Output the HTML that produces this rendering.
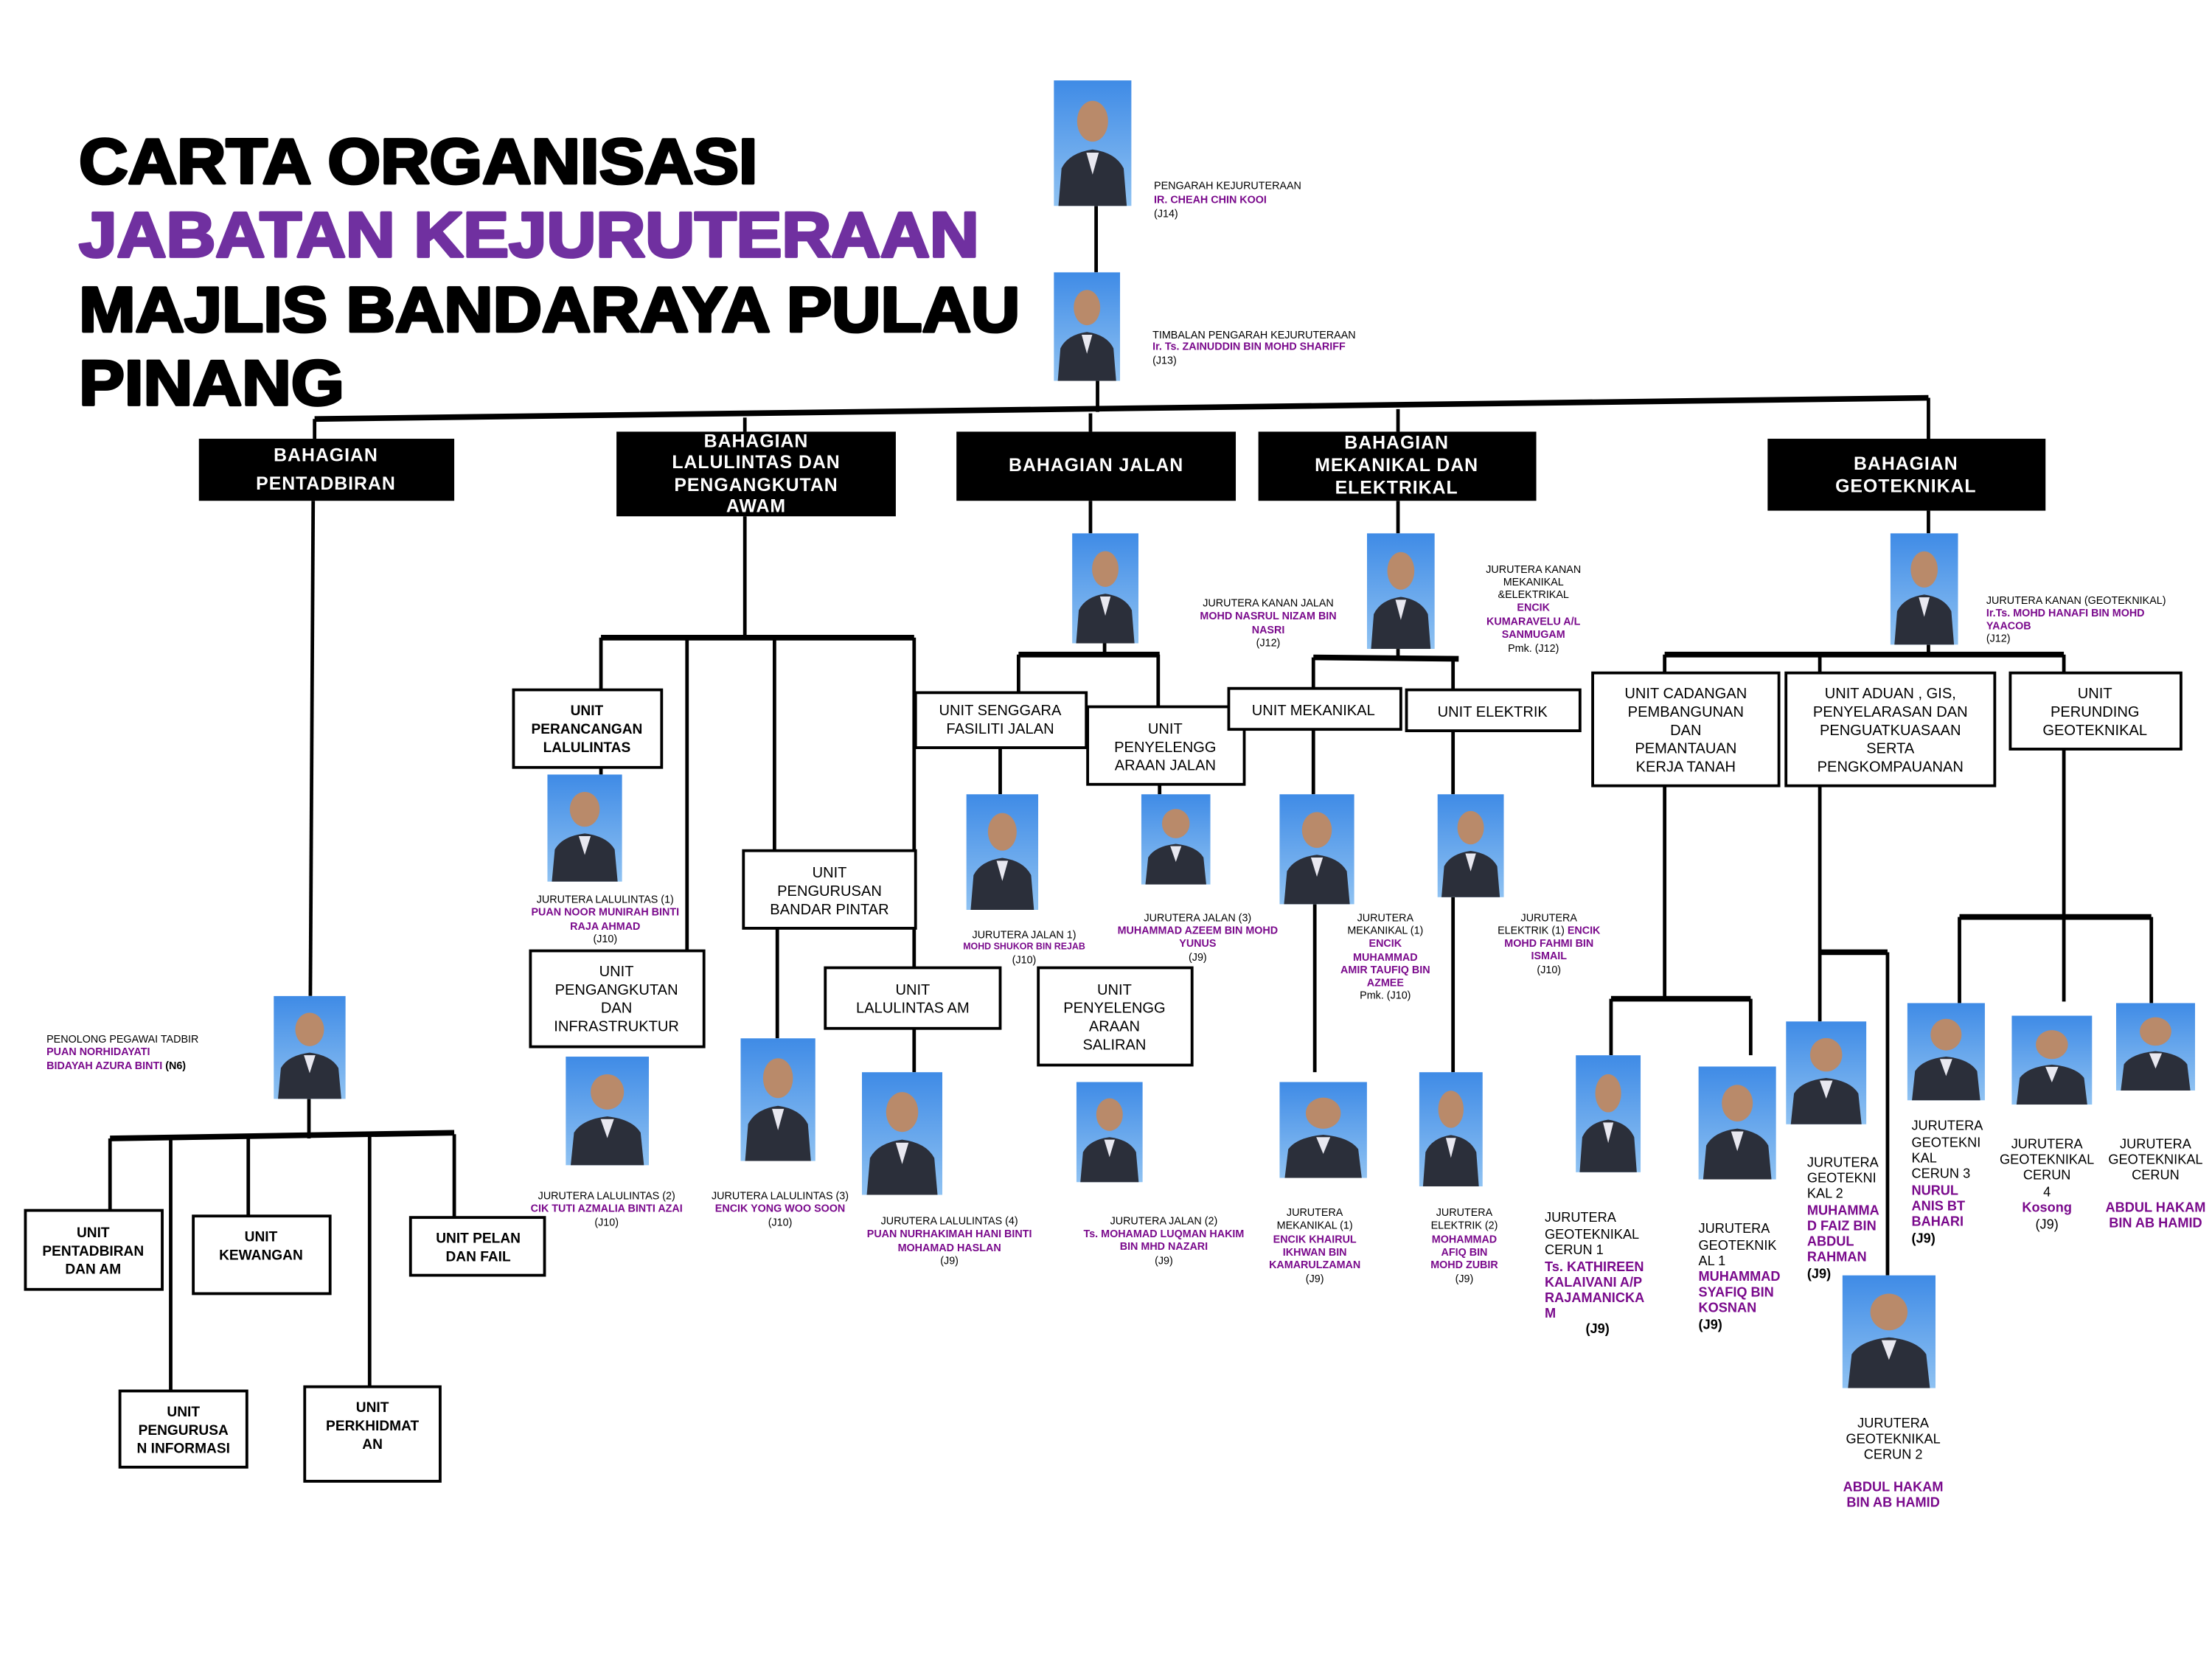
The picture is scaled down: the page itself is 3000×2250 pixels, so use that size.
<!DOCTYPE html>
<html><head><meta charset="utf-8"><style>
html,body{margin:0;padding:0;background:#fff;}
svg{display:block;}
text{font-family:"Liberation Sans",Arial,sans-serif;}
.t{font-size:7.5px;fill:#000;}
.p{font-size:7.5px;fill:#7a0a8c;font-weight:bold;}
.b{font-size:10.5px;fill:#000;}
.bb{font-size:10px;fill:#000;font-weight:bold;}
.w{font-size:13px;fill:#fff;font-weight:bold;letter-spacing:0.5px;}
.g{font-size:9.5px;fill:#000;}
.gp{font-size:9.5px;fill:#7a0a8c;font-weight:bold;}
</style></head><body>
<svg width="3000" height="2250" viewBox="0 0 1568 1176" xmlns="http://www.w3.org/2000/svg">
<defs>
<linearGradient id="bg" x1="0" y1="0" x2="0" y2="1"><stop offset="0" stop-color="#3f8be6"/><stop offset="1" stop-color="#8fc2f2"/></linearGradient>
<symbol id="ph" viewBox="0 0 50 80" preserveAspectRatio="none">
<rect width="50" height="80" fill="url(#bg)"/>
<ellipse cx="25" cy="26" rx="10" ry="13" fill="#b98a6a"/>
<path d="M3 80 L5 56 Q10 46 25 44 Q40 46 45 56 L47 80Z" fill="#2b2f3a"/>
<path d="M21 46 L25 60 L29 46Z" fill="#e8e8f0"/>
</symbol>
</defs>
<rect width="1568" height="1176" fill="#fff"/>
<g font-weight="900" font-size="45" font-family="Liberation Sans,Arial,sans-serif" stroke-width="2" stroke-linejoin="round">
<text x="56" y="130" stroke="#000" textLength="481" lengthAdjust="spacingAndGlyphs">CARTA ORGANISASI</text>
<text x="56" y="182" fill="#7030a0" stroke="#7030a0" textLength="638" lengthAdjust="spacingAndGlyphs">JABATAN KEJURUTERAAN</text>
<text x="56" y="235" stroke="#000" textLength="667" lengthAdjust="spacingAndGlyphs">MAJLIS BANDARAYA PULAU</text>
<text x="56" y="287" stroke="#000" textLength="188" lengthAdjust="spacingAndGlyphs">PINANG</text>
</g>
<g stroke="#000" stroke-width="2.5" fill="none">
<line x1="777" y1="146" x2="777" y2="193"/>
<line x1="778" y1="270" x2="778" y2="292"/>
<line x1="223" y1="297" x2="1367" y2="282" stroke-width="4"/>
<line x1="223" y1="297" x2="223" y2="311"/>
<line x1="528" y1="296" x2="528" y2="306"/>
<line x1="773" y1="293" x2="773" y2="306"/>
<line x1="991" y1="290" x2="991" y2="306"/>
<line x1="1367" y1="282" x2="1367" y2="311"/>
<line x1="222" y1="355" x2="220" y2="706"/>
<line x1="219" y1="779" x2="219" y2="807"/>
<line x1="78" y1="807" x2="322" y2="803" stroke-width="4"/>
<line x1="78" y1="807" x2="78" y2="858"/>
<line x1="121" y1="806" x2="121" y2="986"/>
<line x1="176" y1="805" x2="176" y2="862"/>
<line x1="262" y1="805" x2="262" y2="983"/>
<line x1="322" y1="804" x2="322" y2="863"/>
<line x1="528" y1="366" x2="528" y2="452"/>
<line x1="426" y1="452" x2="648" y2="452" stroke-width="4"/>
<line x1="426" y1="452" x2="426" y2="489"/>
<line x1="487" y1="452" x2="487" y2="674"/>
<line x1="549" y1="452" x2="549" y2="603"/>
<line x1="648" y1="452" x2="648" y2="686"/>
<line x1="426" y1="544" x2="426" y2="549"/>
<line x1="551" y1="658" x2="551" y2="736"/>
<line x1="648" y1="729" x2="648" y2="760"/>
<line x1="773" y1="355" x2="773" y2="378"/>
<line x1="783" y1="456" x2="783" y2="464"/>
<line x1="722" y1="464" x2="822" y2="464" stroke-width="4"/>
<line x1="722" y1="464" x2="722" y2="491"/>
<line x1="821" y1="464" x2="821" y2="501"/>
<line x1="709" y1="530" x2="709" y2="563"/>
<line x1="822" y1="556" x2="822" y2="563"/>
<line x1="991" y1="355" x2="991" y2="378"/>
<line x1="991" y1="460" x2="991" y2="466"/>
<line x1="931" y1="466" x2="1034" y2="467" stroke-width="4"/>
<line x1="931" y1="466" x2="931" y2="488"/>
<line x1="1030" y1="466" x2="1030" y2="489"/>
<line x1="931" y1="517" x2="931" y2="563"/>
<line x1="932" y1="641" x2="932" y2="760"/>
<line x1="1030" y1="518" x2="1030" y2="563"/>
<line x1="1030" y1="636" x2="1030" y2="760"/>
<line x1="1367" y1="362" x2="1367" y2="378"/>
<line x1="1367" y1="457" x2="1367" y2="464"/>
<line x1="1180" y1="464" x2="1463" y2="464" stroke-width="4"/>
<line x1="1180" y1="464" x2="1180" y2="477"/>
<line x1="1290" y1="464" x2="1290" y2="477"/>
<line x1="1463" y1="464" x2="1463" y2="477"/>
<line x1="1180" y1="557" x2="1180" y2="708"/>
<line x1="1142" y1="708" x2="1241" y2="708" stroke-width="4"/>
<line x1="1142" y1="708" x2="1142" y2="748"/>
<line x1="1241" y1="708" x2="1241" y2="748"/>
<line x1="1290" y1="557" x2="1290" y2="724"/>
<line x1="1290" y1="675" x2="1338" y2="675" stroke-width="4"/>
<line x1="1338" y1="675" x2="1338" y2="904"/>
<line x1="1463" y1="531" x2="1463" y2="710"/>
<line x1="1389" y1="650" x2="1525" y2="650" stroke-width="4"/>
<line x1="1389" y1="650" x2="1389" y2="711"/>
<line x1="1525" y1="650" x2="1525" y2="711"/>
</g>
<g fill="#000">
<rect x="141" y="311" width="181" height="44"/>
<rect x="437" y="306" width="198" height="60"/>
<rect x="678" y="306" width="198" height="49"/>
<rect x="892" y="306" width="197" height="49"/>
<rect x="1253" y="311" width="197" height="51"/>
</g>
<g class="w" text-anchor="middle">
<text class="w" x="231" y="327">BAHAGIAN</text><text class="w" x="231" y="347">PENTADBIRAN</text>
<text class="w" x="536" y="317">BAHAGIAN</text><text class="w" x="536" y="332">LALULINTAS DAN</text><text class="w" x="536" y="348">PENGANGKUTAN</text><text class="w" x="536" y="363">AWAM</text>
<text class="w" x="777" y="334">BAHAGIAN JALAN</text>
<text class="w" x="990" y="318">BAHAGIAN</text><text class="w" x="990" y="334">MEKANIKAL DAN</text><text class="w" x="990" y="350">ELEKTRIKAL</text>
<text class="w" x="1351" y="333">BAHAGIAN</text><text class="w" x="1351" y="349">GEOTEKNIKAL</text>
</g>
<g fill="#fff" stroke="#000" stroke-width="2">
<rect x="18" y="858" width="97" height="56"/>
<rect x="85" y="986" width="90" height="54"/>
<rect x="137" y="862" width="97" height="55"/>
<rect x="216" y="983" width="96" height="67"/>
<rect x="291" y="863" width="95" height="41"/>
<rect x="364" y="489" width="105" height="55"/>
<rect x="376" y="674" width="123" height="68"/>
<rect x="527" y="603" width="122" height="55"/>
<rect x="585" y="686" width="124" height="43"/>
<rect x="649" y="491" width="121" height="39"/>
<rect x="771" y="501" width="111" height="55"/>
<rect x="736" y="686" width="109" height="69"/>
<rect x="871" y="488" width="122" height="29"/>
<rect x="997" y="489" width="123" height="29"/>
<rect x="1129" y="477" width="132" height="80"/>
<rect x="1266" y="477" width="148" height="80"/>
<rect x="1425" y="477" width="121" height="54"/>
</g>
<g text-anchor="middle">
<text class="bb" x="66" y="877">UNIT</text><text class="bb" x="66" y="890">PENTADBIRAN</text><text class="bb" x="66" y="903">DAN AM</text>
<text class="bb" x="130" y="1004">UNIT</text><text class="bb" x="130" y="1017">PENGURUSA</text><text class="bb" x="130" y="1030">N INFORMASI</text>
<text class="bb" x="185" y="880">UNIT</text><text class="bb" x="185" y="893">KEWANGAN</text>
<text class="bb" x="264" y="1001">UNIT</text><text class="bb" x="264" y="1014">PERKHIDMAT</text><text class="bb" x="264" y="1027">AN</text>
<text class="bb" x="339" y="881">UNIT PELAN</text><text class="bb" x="339" y="894">DAN FAIL</text>
<text class="bb" x="416" y="507">UNIT</text><text class="bb" x="416" y="520">PERANCANGAN</text><text class="bb" x="416" y="533">LALULINTAS</text>
<text class="b" x="437" y="692">UNIT</text><text class="b" x="437" y="705">PENGANGKUTAN</text><text class="b" x="437" y="718">DAN</text><text class="b" x="437" y="731">INFRASTRUKTUR</text>
<text class="b" x="588" y="622">UNIT</text><text class="b" x="588" y="635">PENGURUSAN</text><text class="b" x="588" y="648">BANDAR PINTAR</text>
<text class="b" x="647" y="705">UNIT</text><text class="b" x="647" y="718">LALULINTAS AM</text>
<text class="b" x="709" y="507">UNIT SENGGARA</text><text class="b" x="709" y="520">FASILITI JALAN</text>
<text class="b" x="826" y="520">UNIT</text><text class="b" x="826" y="533">PENYELENGG</text><text class="b" x="826" y="546">ARAAN JALAN</text>
<text class="b" x="790" y="705">UNIT</text><text class="b" x="790" y="718">PENYELENGG</text><text class="b" x="790" y="731">ARAAN</text><text class="b" x="790" y="744">SALIRAN</text>
<text class="b" x="931" y="507">UNIT MEKANIKAL</text>
<text class="b" x="1058" y="508">UNIT ELEKTRIK</text>
<text class="b" x="1195" y="495">UNIT CADANGAN</text><text class="b" x="1195" y="508">PEMBANGUNAN</text><text class="b" x="1195" y="521">DAN</text><text class="b" x="1195" y="534">PEMANTAUAN</text><text class="b" x="1195" y="547">KERJA TANAH</text>
<text class="b" x="1340" y="495">UNIT ADUAN , GIS,</text><text class="b" x="1340" y="508">PENYELARASAN DAN</text><text class="b" x="1340" y="521">PENGUATKUASAAN</text><text class="b" x="1340" y="534">SERTA</text><text class="b" x="1340" y="547">PENGKOMPAUANAN</text>
<text class="b" x="1485" y="495">UNIT</text><text class="b" x="1485" y="508">PERUNDING</text><text class="b" x="1485" y="521">GEOTEKNIKAL</text>
</g>
<use href="#ph" x="747" y="57" width="55" height="89"/>
<use href="#ph" x="747" y="193" width="47" height="77"/>
<use href="#ph" x="194" y="706" width="51" height="73"/>
<use href="#ph" x="388" y="549" width="53" height="76"/>
<use href="#ph" x="401" y="749" width="59" height="77"/>
<use href="#ph" x="525" y="736" width="53" height="87"/>
<use href="#ph" x="611" y="760" width="57" height="87"/>
<use href="#ph" x="760" y="378" width="47" height="78"/>
<use href="#ph" x="685" y="563" width="51" height="82"/>
<use href="#ph" x="809" y="563" width="49" height="64"/>
<use href="#ph" x="763" y="767" width="47" height="71"/>
<use href="#ph" x="969" y="378" width="48" height="82"/>
<use href="#ph" x="907" y="563" width="53" height="78"/>
<use href="#ph" x="907" y="767" width="62" height="68"/>
<use href="#ph" x="1019" y="563" width="47" height="73"/>
<use href="#ph" x="1006" y="760" width="45" height="81"/>
<use href="#ph" x="1340" y="378" width="48" height="79"/>
<use href="#ph" x="1117" y="748" width="46" height="83"/>
<use href="#ph" x="1204" y="756" width="55" height="80"/>
<use href="#ph" x="1266" y="724" width="57" height="73"/>
<use href="#ph" x="1306" y="904" width="66" height="80"/>
<use href="#ph" x="1352" y="711" width="55" height="69"/>
<use href="#ph" x="1426" y="720" width="57" height="63"/>
<use href="#ph" x="1500" y="711" width="56" height="62"/>
<text class="t" x="818" y="134">PENGARAH KEJURUTERAAN</text><text class="p" x="818" y="144">IR. CHEAH CHIN KOOI</text><text class="t" x="818" y="154">(J14)</text>
<text class="t" x="817" y="240">TIMBALAN PENGARAH KEJURUTERAAN</text><text class="p" x="817" y="248">Ir. Ts. ZAINUDDIN BIN MOHD SHARIFF</text><text class="t" x="817" y="258">(J13)</text>
<text class="t" x="33" y="739">PENOLONG PEGAWAI TADBIR</text><text class="p" x="33" y="748">PUAN NORHIDAYATI</text><text class="p" x="33" y="758">BIDAYAH AZURA BINTI <tspan class="t">(N6)</tspan></text>
<g text-anchor="middle">
<text class="t" x="429" y="640">JURUTERA LALULINTAS (1)</text><text class="p" x="429" y="649">PUAN NOOR MUNIRAH BINTI</text><text class="p" x="429" y="659">RAJA AHMAD</text><text class="t" x="429" y="668">(J10)</text>
<text class="t" x="430" y="850">JURUTERA LALULINTAS (2)</text><text class="p" x="430" y="859">CIK TUTI AZMALIA BINTI AZAI</text><text class="t" x="430" y="869">(J10)</text>
<text class="t" x="553" y="850">JURUTERA LALULINTAS (3)</text><text class="p" x="553" y="859">ENCIK YONG WOO SOON</text><text class="t" x="553" y="869">(J10)</text>
<text class="t" x="673" y="868">JURUTERA LALULINTAS (4)</text><text class="p" x="673" y="877">PUAN NURHAKIMAH HANI BINTI</text><text class="p" x="673" y="887">MOHAMAD HASLAN</text><text class="t" x="673" y="896">(J9)</text>
<text class="t" x="899" y="430">JURUTERA KANAN JALAN</text><text class="p" x="899" y="439">MOHD NASRUL NIZAM BIN</text><text class="p" x="899" y="449">NASRI</text><text class="t" x="899" y="458">(J12)</text>
<text class="t" x="726" y="665">JURUTERA JALAN 1)</text><text class="p" x="726" y="673" style="font-size:6.5px">MOHD SHUKOR BIN REJAB</text><text class="t" x="726" y="683">(J10)</text>
<text class="t" x="849" y="653">JURUTERA JALAN (3)</text><text class="p" x="849" y="662">MUHAMMAD AZEEM BIN MOHD</text><text class="p" x="849" y="671">YUNUS</text><text class="t" x="849" y="681">(J9)</text>
<text class="t" x="825" y="868">JURUTERA JALAN (2)</text><text class="p" x="825" y="877">Ts. MOHAMAD LUQMAN HAKIM</text><text class="p" x="825" y="886">BIN MHD NAZARI</text><text class="t" x="825" y="896">(J9)</text>
<text class="t" x="1087" y="406">JURUTERA  KANAN</text><text class="t" x="1087" y="415">MEKANIKAL</text><text class="t" x="1087" y="424">&amp;ELEKTRIKAL</text><text class="p" x="1087" y="433">ENCIK</text><text class="p" x="1087" y="443">KUMARAVELU A/L</text><text class="p" x="1087" y="452">SANMUGAM</text><text class="t" x="1087" y="462">Pmk. (J12)</text>
<text class="t" x="982" y="653">JURUTERA</text><text class="t" x="982" y="662">MEKANIKAL (1)</text><text class="p" x="982" y="671">ENCIK</text><text class="p" x="982" y="681">MUHAMMAD</text><text class="p" x="982" y="690">AMIR TAUFIQ BIN</text><text class="p" x="982" y="699">AZMEE</text><text class="t" x="982" y="708">Pmk. (J10)</text>
<text class="t" x="1098" y="653">JURUTERA</text><text class="t" x="1098" y="662">ELEKTRIK (1) <tspan class="p">ENCIK</tspan></text><text class="p" x="1098" y="671">MOHD FAHMI BIN</text><text class="p" x="1098" y="680">ISMAIL</text><text class="t" x="1098" y="690">(J10)</text>
<text class="t" x="932" y="862">JURUTERA</text><text class="t" x="932" y="871">MEKANIKAL (1)</text><text class="p" x="932" y="881">ENCIK KHAIRUL</text><text class="p" x="932" y="890">IKHWAN BIN</text><text class="p" x="932" y="899">KAMARULZAMAN</text><text class="t" x="932" y="909">(J9)</text>
<text class="t" x="1038" y="862">JURUTERA</text><text class="t" x="1038" y="871">ELEKTRIK (2)</text><text class="p" x="1038" y="881">MOHAMMAD</text><text class="p" x="1038" y="890">AFIQ BIN</text><text class="p" x="1038" y="899">MOHD ZUBIR</text><text class="t" x="1038" y="909">(J9)</text>
<text class="g" x="1342" y="1012">JURUTERA</text><text class="g" x="1342" y="1023">GEOTEKNIKAL</text><text class="g" x="1342" y="1034">CERUN 2</text><text class="gp" x="1342" y="1057">ABDUL HAKAM</text><text class="gp" x="1342" y="1068">BIN AB HAMID</text>
<text class="g" x="1451" y="814">JURUTERA</text><text class="g" x="1451" y="825">GEOTEKNIKAL</text><text class="g" x="1451" y="836">CERUN</text><text class="g" x="1451" y="848">4</text><text class="gp" x="1451" y="859">Kosong</text><text class="g" x="1451" y="871">(J9)</text>
<text class="g" x="1528" y="814">JURUTERA</text><text class="g" x="1528" y="825">GEOTEKNIKAL</text><text class="g" x="1528" y="836">CERUN</text><text class="gp" x="1528" y="859">ABDUL HAKAM</text><text class="gp" x="1528" y="870">BIN AB HAMID</text>
</g>
<text class="t" x="1408" y="428">JURUTERA KANAN (GEOTEKNIKAL)</text><text class="p" x="1408" y="437">Ir.Ts. MOHD HANAFI BIN MOHD</text><text class="p" x="1408" y="446">YAACOB</text><text class="t" x="1408" y="455">(J12)</text>
<text class="g" x="1095" y="866">JURUTERA</text><text class="g" x="1095" y="878">GEOTEKNIKAL</text><text class="g" x="1095" y="889">CERUN 1</text><text class="gp" x="1095" y="901">Ts. KATHIREEN</text><text class="gp" x="1095" y="912">KALAIVANI A/P</text><text class="gp" x="1095" y="923">RAJAMANICKA</text><text class="gp" x="1095" y="934">M</text><text class="g" x="1124" y="945" font-weight="bold">(J9)</text>
<text class="g" x="1204" y="874">JURUTERA</text><text class="g" x="1204" y="886">GEOTEKNIK</text><text class="g" x="1204" y="897">AL 1</text><text class="gp" x="1204" y="908">MUHAMMAD</text><text class="gp" x="1204" y="919">SYAFIQ BIN</text><text class="gp" x="1204" y="930">KOSNAN</text><text class="g" x="1204" y="942" font-weight="bold">(J9)</text>
<text class="g" x="1281" y="827">JURUTERA</text><text class="g" x="1281" y="838">GEOTEKNI</text><text class="g" x="1281" y="849">KAL 2</text><text class="gp" x="1281" y="861">MUHAMMA</text><text class="gp" x="1281" y="872">D FAIZ BIN</text><text class="gp" x="1281" y="883">ABDUL</text><text class="gp" x="1281" y="894">RAHMAN</text><text class="g" x="1281" y="906" font-weight="bold">(J9)</text>
<text class="g" x="1355" y="801">JURUTERA</text><text class="g" x="1355" y="813">GEOTEKNI</text><text class="g" x="1355" y="824">KAL</text><text class="g" x="1355" y="835">CERUN 3</text><text class="gp" x="1355" y="847">NURUL</text><text class="gp" x="1355" y="858">ANIS BT</text><text class="gp" x="1355" y="869">BAHARI</text><text class="g" x="1355" y="881" font-weight="bold">(J9)</text>
</svg>
</body></html>
